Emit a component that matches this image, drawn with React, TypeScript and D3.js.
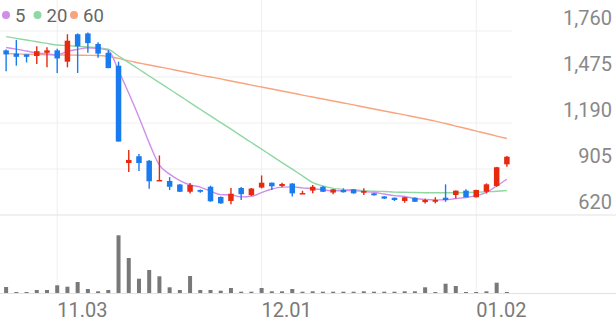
import React from "react";
import * as d3 from "d3";

const dates = ["10.27","10.28","10.31","11.01","11.02","11.03","11.04","11.07","11.08","11.09","11.10","11.11","11.14","11.15","11.16","11.17","11.18","11.21","11.22","11.23","11.24","11.25","11.28","11.29","11.30","12.01","12.02","12.05","12.06","12.07","12.08","12.09","12.12","12.13","12.14","12.15","12.16","12.19","12.20","12.21","12.22","12.23","12.26","12.27","12.28","12.29","01.02","01.03","01.04","01.05"];
const opens = [1640,1620,1615,1605,1625,1640,1570,1740,1745,1680,1625,1545,942,984,956,831,831,809,764,775,795,732,707,787,743,790,820,800,815,751,771,795,759,775,779,758,754,735,727,707,727,700,702,727,744,771,730,764,800,934];
const highs = [1645,1705,1615,1665,1660,1650,1740,1745,1750,1690,1640,1570,1023,998,961,989,855,812,818,778,802,735,787,793,787,865,822,820,816,770,806,800,781,785,781,785,756,736,728,732,728,721,730,810,772,779,777,816,918,986];
const lows = [1510,1545,1565,1555,1535,1500,1535,1500,1625,1595,1530,1075,886,893,783,831,775,762,753,758,702,690,687,713,738,785,775,792,735,750,754,762,749,759,753,744,741,719,707,696,700,692,692,702,723,728,728,754,795,919];
const closes = [1615,1600,1600,1635,1640,1590,1700,1665,1685,1620,1530,1075,961,942,829,837,795,764,806,764,705,692,752,749,784,820,798,812,754,756,795,764,779,761,754,769,742,722,713,730,702,713,713,713,771,730,775,810,916,981];
const volumes = [600,100,100,300,300,770,630,1100,400,170,300,5770,3500,1430,2300,1670,570,300,1700,300,300,230,500,130,130,500,170,170,400,130,170,130,130,130,130,170,130,130,130,170,170,570,100,930,700,100,100,170,1030,100];
const ma5 = [1658,1648,1636,1624,1618,1613,1633,1646,1656,1652,1640,1515,1374,1226,1067,929,873,833,806,793,767,746,744,732,736,759,781,793,794,788,783,776,770,771,771,765,761,750,740,735,722,716,714,714,722,728,740,760,800,842];
const ma20 = [1725,1714,1704,1693,1683,1673,1670,1665,1661,1657,1647,1605,1564,1523,1481,1440,1399,1358,1316,1275,1234,1192,1152,1110,1069,1028,986,945,904,862,821,800,785,779,775,771,767,766,762,761,759,758,758,758,758,759,761,764,767,772];
const ma60 = [1621,1618,1616,1614,1613,1611,1611,1610,1609,1608,1602,1590,1575,1562,1549,1537,1525,1512,1500,1487,1475,1463,1450,1438,1425,1413,1401,1388,1376,1363,1351,1339,1326,1314,1302,1289,1277,1264,1252,1240,1227,1215,1202,1187,1171,1156,1140,1125,1109,1094];
const priceTicks = [620, 905, 1190, 1475, 1760];
const dateTicks = ["11.03", "12.01", "01.02"];
const legend = [
  { label: "5", color: "#cf8ee9" },
  { label: "20", color: "#8fd8a2" },
  { label: "60", color: "#f8a57f" },
];

const W = 616, H = 321;
const UP = "#e6290f", DOWN = "#1a7bee";

export default function App() {
  const x = d3.scaleBand<string>().domain(dates).range([1, 512]);
  const cx = (d: string) => (x(d) as number) + x.bandwidth() / 2;
  const y = d3.scaleLinear().domain([620, 1760]).range([215, 31]);
  const yv = d3.scaleLinear().domain([0, 6000]).range([293, 233]);
  const mk = (arr: number[]) =>
    d3.line<number>().x((_, i) => cx(dates[i])).y((v) => y(v)).curve(d3.curveMonotoneX)(arr) || "";
  const font = "Roboto, 'Noto Sans', sans-serif";
  return (
    <svg width={W} height={H} style={{ position: "fixed", left: 0, top: 0, background: "#fff" }} fontFamily={font}>
      <rect x={0} y={0} width={W} height={H} fill="#fff" />
      {priceTicks.slice(1).map((t) => (
        <line key={t} x1={0} x2={512} y1={y(t)} y2={y(t)} stroke="#efefef" strokeWidth={1} />
      ))}
      {dateTicks.map((d) => (
        <line key={d} x1={cx(d)} x2={cx(d)} y1={0} y2={293} stroke="#efefef" strokeWidth={1} />
      ))}
      <line x1={0} x2={W} y1={y(620)} y2={y(620)} stroke="#e2e2e2" strokeWidth={1} />
      <line x1={0} x2={W} y1={293.5} y2={293.5} stroke="#e2e2e2" strokeWidth={1} />
      <path d={mk(ma60)} fill="none" stroke="#f8a57f" strokeWidth={1.4} />
      <path d={mk(ma20)} fill="none" stroke="#8fd8a2" strokeWidth={1.4} />
      <path d={mk(ma5)} fill="none" stroke="#cf8ee9" strokeWidth={1.4} />
      {dates.map((d, i) => {
        const up = closes[i] >= opens[i];
        const c = up ? UP : DOWN;
        const top = y(Math.max(opens[i], closes[i]));
        const bot = y(Math.min(opens[i], closes[i]));
        const xc = cx(d);
        return (
          <g key={d}>
            <line x1={xc} x2={xc} y1={y(highs[i])} y2={y(lows[i])} stroke={c} strokeWidth={1.4} />
            <rect x={xc - 2.75} y={top} width={5.5} height={Math.max(1.5, bot - top)} fill={c} />
          </g>
        );
      })}
      {dates.map((d, i) => (
        <rect key={"v" + d} x={cx(d) - 2} y={yv(volumes[i])} width={4} height={293 - yv(volumes[i])} fill="#787878" />
      ))}
      {priceTicks.map((t) => (
        <text key={"t" + t} x={612} y={y(t) - 6} textAnchor="end" fontSize={20} fill="#888">
          {d3.format(",")(t)}
        </text>
      ))}
      {dateTicks.map((d) => (
        <text key={"d" + d} x={cx(d)} y={316.5} fontSize={20} fill="#7a7a7a">
          {d}
        </text>
      ))}
      {legend.map((l, i) => {
        const offs = [6, 37.5, 74];
        return (
          <g key={l.label}>
            <circle cx={offs[i]} cy={15} r={4} fill={l.color} />
            <text x={offs[i] + 9} y={21.5} fontSize={18.5} fill="#666">{l.label}</text>
          </g>
        );
      })}
    </svg>
  );
}
